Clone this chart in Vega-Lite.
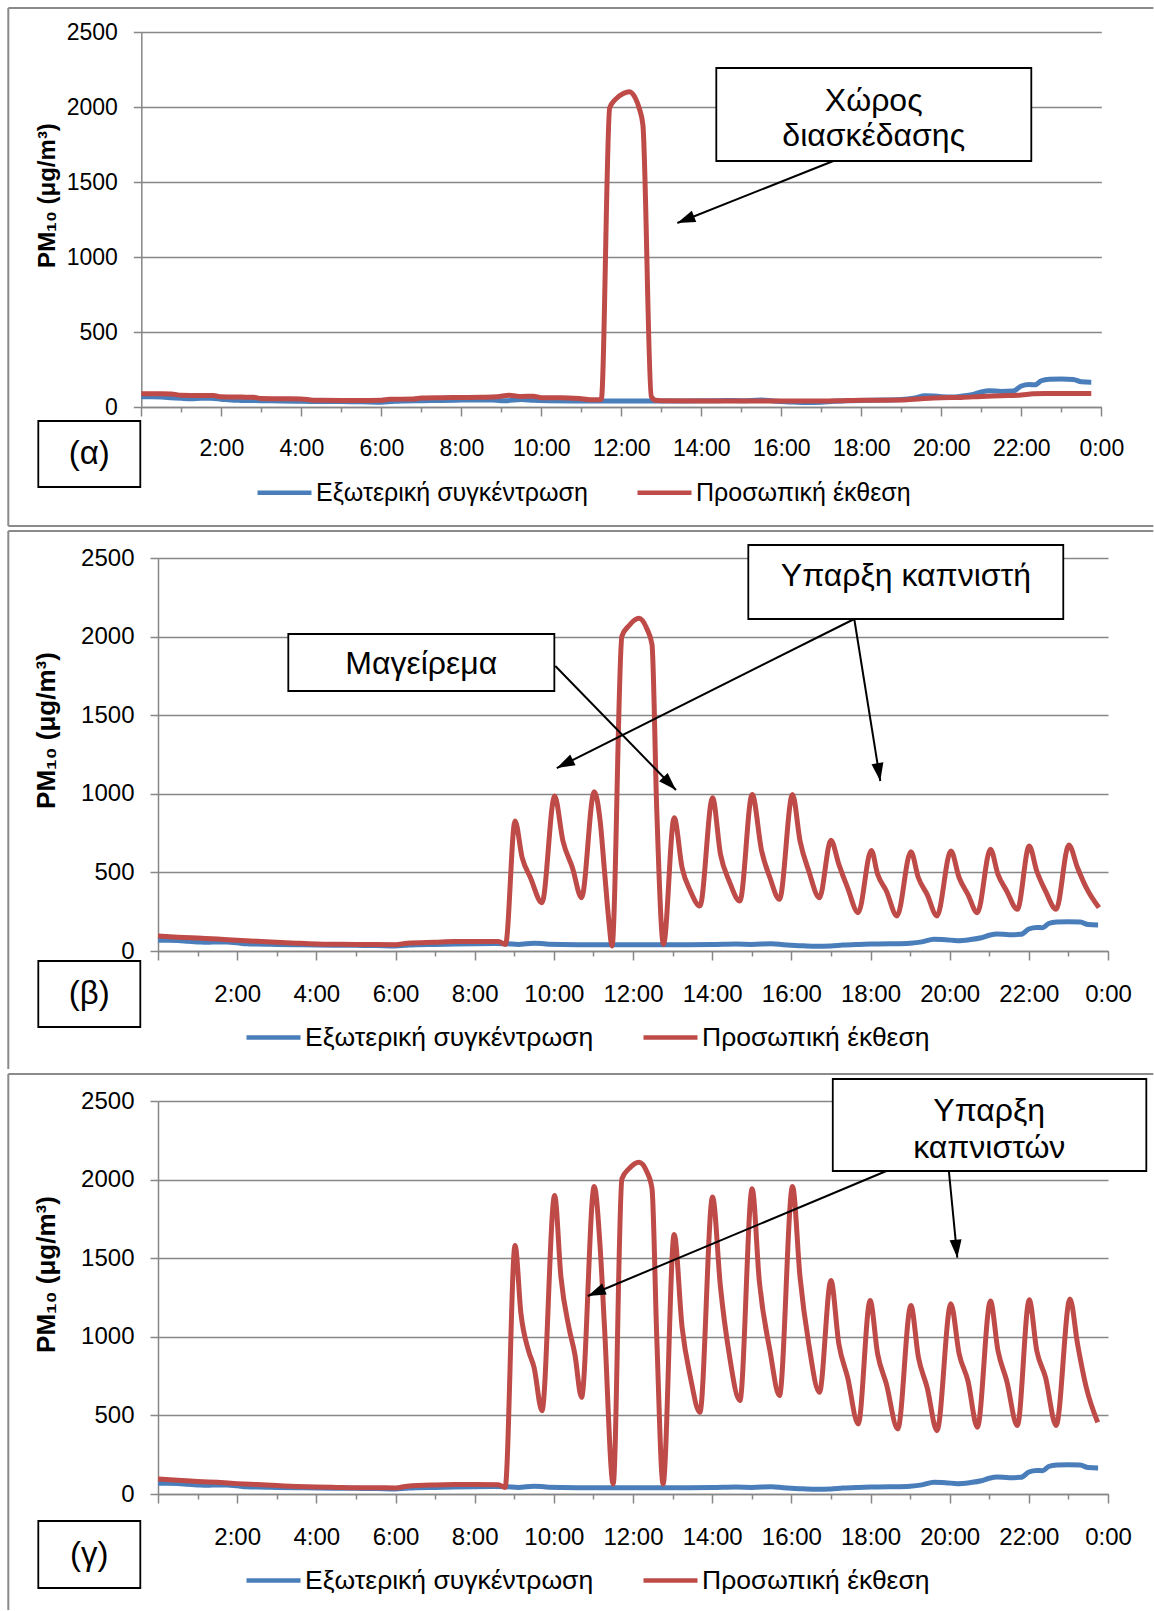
{
 "$schema": "https://vega.github.io/schema/vega-lite/v6.json",
 "padding": {"left": 7, "top": 6, "right": 0, "bottom": 0},
 "background": "white",
 "columns": 1,
 "align": "none",
 "bounds": "full",
 "spacing": 3,
 "resolve": {"scale": {"color": "independent"}, "legend": {"color": "independent"}},
 "config": {
  "font": "Liberation Sans",
  "view": {"stroke": null},
  "axis": {"labelFont": "Liberation Sans", "labelFontSize": 24, "labelColor": "#000000", "titleFont": "Liberation Sans", "titleFontSize": 26, "titleFontWeight": "bold", "titleColor": "#000000", "domainColor": "#878787", "domainWidth": 1.5, "tickColor": "#878787", "tickWidth": 1.5, "gridColor": "#878787", "gridWidth": 1.5, "gridOpacity": 1, "labelFlush": false, "labelOverlap": false, "labelBound": false},
  "legend": {"labelFont": "Liberation Sans", "labelFontSize": 26.5, "labelColor": "#000000", "labelLimit": 500}
 },
 "datasets": {
  "blue": [
   {"h":0,"v":68},{"h":0.25,"v":68},{"h":0.5,"v":66},{"h":0.75,"v":62},{"h":1,"v":58},{"h":1.25,"v":55},{"h":1.5,"v":58},{"h":1.75,"v":58},{"h":2,"v":52},{"h":2.25,"v":46},{"h":2.5,"v":44},{"h":3,"v":42},{"h":3.5,"v":40},{"h":4,"v":38},{"h":4.5,"v":37},{"h":5,"v":36},{"h":5.5,"v":35},{"h":6,"v":32},{"h":6.25,"v":36},{"h":6.5,"v":40},{"h":7,"v":42},{"h":7.5,"v":44},{"h":8,"v":46},{"h":8.5,"v":47},{"h":8.8,"v":46},{"h":9.1,"v":42},{"h":9.5,"v":50},{"h":9.8,"v":45},{"h":10.2,"v":42},{"h":11,"v":40},{"h":12,"v":40},{"h":13,"v":40},{"h":14,"v":41},{"h":14.6,"v":44},{"h":15,"v":42},{"h":15.5,"v":46},{"h":15.8,"v":40},{"h":16.2,"v":34},{"h":16.6,"v":30},{"h":17,"v":32},{"h":17.3,"v":38},{"h":17.7,"v":42},{"h":18,"v":44},{"h":18.5,"v":46},{"h":19,"v":50},{"h":19.3,"v":58},{"h":19.6,"v":75},{"h":19.9,"v":72},{"h":20.2,"v":66},{"h":20.5,"v":72},{"h":20.8,"v":84},{"h":21,"v":100},{"h":21.2,"v":108},{"h":21.5,"v":104},{"h":21.8,"v":106},{"h":22,"v":140},{"h":22.2,"v":150},{"h":22.35,"v":148},{"h":22.5,"v":175},{"h":22.7,"v":185},{"h":23,"v":186},{"h":23.3,"v":184},{"h":23.5,"v":168},{"h":23.75,"v":165}
  ],
  "red_a": [
   {"h":0,"v":88},{"h":0.5,"v":88},{"h":0.75,"v":87},{"h":1,"v":78},{"h":1.5,"v":76},{"h":1.8,"v":76},{"h":2,"v":68},{"h":2.5,"v":66},{"h":2.8,"v":65},{"h":3,"v":56},{"h":3.5,"v":55},{"h":4,"v":54},{"h":4.3,"v":45},{"h":5,"v":44},{"h":5.5,"v":44},{"h":6,"v":45},{"h":6.2,"v":52},{"h":6.8,"v":53},{"h":7,"v":60},{"h":7.5,"v":62},{"h":8,"v":63},{"h":8.5,"v":65},{"h":8.9,"v":68},{"h":9.2,"v":78},{"h":9.5,"v":70},{"h":9.8,"v":72},{"h":10,"v":62},{"h":10.5,"v":62},{"h":11,"v":55},{"h":11.3,"v":48},{"h":11.5,"v":50},{"h":11.71,"v":1995},{"h":11.85,"v":2050},{"h":12.05,"v":2090},{"h":12.2,"v":2102},{"h":12.35,"v":2060},{"h":12.45,"v":1990},{"h":12.54,"v":1880},{"h":12.75,"v":70},{"h":12.85,"v":45},{"h":13,"v":42},{"h":14,"v":40},{"h":15,"v":40},{"h":16,"v":40},{"h":17,"v":40},{"h":17.5,"v":42},{"h":18,"v":45},{"h":19,"v":46},{"h":19.5,"v":55},{"h":20,"v":62},{"h":20.5,"v":64},{"h":21,"v":70},{"h":21.5,"v":75},{"h":22,"v":80},{"h":22.3,"v":88},{"h":22.6,"v":90},{"h":23,"v":90},{"h":23.75,"v":90}
  ],
  "red_b": [
   {"h":0,"v":95},{"h":0.5,"v":88},{"h":1,"v":82},{"h":1.5,"v":76},{"h":2,"v":68},{"h":2.5,"v":62},{"h":3,"v":56},{"h":3.5,"v":50},{"h":4,"v":45},{"h":4.5,"v":43},{"h":5,"v":42},{"h":5.5,"v":41},{"h":6,"v":40},{"h":6.3,"v":50},{"h":7,"v":56},{"h":7.5,"v":60},{"h":8,"v":60},{"h":8.6,"v":60},{"h":8.78,"v":42},{"h":9.02,"v":827},{"h":9.2,"v":594},{"h":9.41,"v":466},{"h":9.7,"v":307},{"h":10.02,"v":986},{"h":10.23,"v":700},{"h":10.47,"v":530},{"h":10.7,"v":339},{"h":11.02,"v":1013},{"h":11.17,"v":827},{"h":11.28,"v":509},{"h":11.39,"v":191},{"h":11.47,"v":32},{"h":11.72,"v":2003},{"h":11.9,"v":2070},{"h":12.15,"v":2116},{"h":12.35,"v":2050},{"h":12.48,"v":1950},{"h":12.6,"v":900},{"h":12.77,"v":42},{"h":13.04,"v":848},{"h":13.24,"v":530},{"h":13.45,"v":382},{"h":13.69,"v":286},{"h":14.01,"v":975},{"h":14.21,"v":615},{"h":14.43,"v":445},{"h":14.7,"v":318},{"h":15.01,"v":996},{"h":15.25,"v":636},{"h":15.46,"v":466},{"h":15.7,"v":329},{"h":16.03,"v":996},{"h":16.22,"v":700},{"h":16.44,"v":509},{"h":16.71,"v":339},{"h":17.0,"v":704},{"h":17.2,"v":551},{"h":17.42,"v":403},{"h":17.69,"v":244},{"h":18.02,"v":640},{"h":18.18,"v":488},{"h":18.4,"v":382},{"h":18.67,"v":223},{"h":19.02,"v":632},{"h":19.21,"v":466},{"h":19.43,"v":360},{"h":19.68,"v":223},{"h":20.03,"v":636},{"h":20.24,"v":466},{"h":20.46,"v":360},{"h":20.7,"v":244},{"h":21.03,"v":647},{"h":21.22,"v":488},{"h":21.44,"v":382},{"h":21.71,"v":265},{"h":22.01,"v":668},{"h":22.2,"v":509},{"h":22.42,"v":382},{"h":22.69,"v":265},{"h":23.01,"v":674},{"h":23.23,"v":530},{"h":23.45,"v":403},{"h":23.77,"v":276}
  ],
  "red_g": [
   {"h":0,"v":95},{"h":0.5,"v":88},{"h":1,"v":80},{"h":1.5,"v":74},{"h":2,"v":66},{"h":2.5,"v":60},{"h":3,"v":54},{"h":3.5,"v":48},{"h":4,"v":44},{"h":4.5,"v":42},{"h":5,"v":40},{"h":5.5,"v":40},{"h":6,"v":38},{"h":6.3,"v":50},{"h":7,"v":58},{"h":7.5,"v":60},{"h":8,"v":60},{"h":8.6,"v":59},{"h":8.77,"v":42},{"h":9.02,"v":1581},{"h":9.17,"v":1146},{"h":9.36,"v":912},{"h":9.5,"v":806},{"h":9.7,"v":530},{"h":10.02,"v":1899},{"h":10.18,"v":1379},{"h":10.38,"v":1061},{"h":10.53,"v":891},{"h":10.7,"v":615},{"h":11.02,"v":1956},{"h":11.17,"v":1570},{"h":11.28,"v":1061},{"h":11.5,"v":64},{"h":11.72,"v":2005},{"h":11.9,"v":2070},{"h":12.15,"v":2111},{"h":12.35,"v":2050},{"h":12.48,"v":1942},{"h":12.6,"v":1000},{"h":12.76,"v":64},{"h":13.04,"v":1651},{"h":13.24,"v":1061},{"h":13.45,"v":743},{"h":13.69,"v":520},{"h":14.01,"v":1889},{"h":14.21,"v":1316},{"h":14.43,"v":891},{"h":14.7,"v":594},{"h":15.01,"v":1942},{"h":15.19,"v":1358},{"h":15.46,"v":912},{"h":15.7,"v":626},{"h":16.03,"v":1956},{"h":16.22,"v":1379},{"h":16.44,"v":955},{"h":16.71,"v":647},{"h":17.0,"v":1358},{"h":17.2,"v":955},{"h":17.42,"v":743},{"h":17.69,"v":446},{"h":17.99,"v":1231},{"h":18.18,"v":891},{"h":18.4,"v":700},{"h":18.69,"v":414},{"h":19.02,"v":1199},{"h":19.21,"v":870},{"h":19.43,"v":679},{"h":19.68,"v":403},{"h":20.03,"v":1210},{"h":20.24,"v":891},{"h":20.46,"v":721},{"h":20.7,"v":424},{"h":21.03,"v":1227},{"h":21.22,"v":912},{"h":21.44,"v":721},{"h":21.71,"v":435},{"h":22.01,"v":1235},{"h":22.2,"v":912},{"h":22.42,"v":743},{"h":22.69,"v":435},{"h":23.04,"v":1241},{"h":23.23,"v":955},{"h":23.45,"v":679},{"h":23.74,"v":456}
  ],
  "ann_a": [
   {"kind":"box","h":14.375,"h2":22.25,"v":2260,"v2":1640},
   {"kind":"box","h":-2.575,"h2":-0.025,"v":-93.3,"v2":-533.3},
   {"kind":"note","h":18.31,"v":2040,"t":"Χώρος\nδιασκέδασης"},
   {"kind":"tag","h":-1.3,"v":-313,"t":"(α)"},
   {"kind":"arrow","id":"a1","h":17.3,"v":1640,"h2":13.4,"v2":1226.7},
   {"kind":"frame","h":-3.325,"h2":25.3,"v":2660,"v2":2660},
   {"kind":"frame","h":-3.325,"h2":-3.325,"v":2660,"v2":-793.3},
   {"kind":"frame","h":-3.325,"h2":25.3,"v":-793.3,"v2":-793.3}
  ],
  "ann_b": [
   {"kind":"box","h":3.292,"h2":10.013,"v":2016.5,"v2":1654},
   {"kind":"box","h":14.913,"h2":22.87,"v":2582.7,"v2":2112},
   {"kind":"box","h":-3.024,"h2":-0.447,"v":-63.6,"v2":-483.5},
   {"kind":"note","h":6.65,"v":1826,"t":"Μαγείρεμα"},
   {"kind":"note","h":18.894,"v":2385,"t":"Υπαρξη καπνιστή"},
   {"kind":"tag","h":-1.735,"v":-273.5,"t":"(β)"},
   {"kind":"arrow","id":"b1","h":10.037,"v":1813,"h2":13.085,"v2":1024.2},
   {"kind":"arrow","id":"b2","h":17.59,"v":2112,"h2":10.075,"v2":1164},
   {"kind":"arrow","id":"b3","h":17.59,"v":2112,"h2":18.247,"v2":1081.4},
   {"kind":"frame","h":-3.782,"h2":25.145,"v":2671.7,"v2":2671.7},
   {"kind":"frame","h":-3.782,"h2":-3.782,"v":2671.7,"v2":-750.6}
  ],
  "ann_g": [
   {"kind":"box","h":17.047,"h2":24.968,"v":2640,"v2":2054.7},
   {"kind":"box","h":-3.024,"h2":-0.447,"v":-171.8,"v2":-598},
   {"kind":"note","h":21.0,"v":2436,"t":"Υπαρξη\nκαπνιστών"},
   {"kind":"tag","h":-1.735,"v":-385,"t":"(γ)"},
   {"kind":"arrow","id":"g1","h":18.4,"v":2054.7,"h2":10.858,"v2":1259.5},
   {"kind":"arrow","id":"g2","h":19.98,"v":2054.7,"h2":20.193,"v2":1503.2},
   {"kind":"frame","h":-3.782,"h2":25.145,"v":2671.7,"v2":2671.7},
   {"kind":"frame","h":-3.782,"h2":-3.782,"v":2671.7,"v2":-737.9}
  ]
 },
 "concat": [
  {
   "width": 943.3, "height": 375,
   "resolve": {"axis": {"x": "independent"}},
   "layer": [
    {"data": {"name": "blue"}, "mark": {"type": "line", "strokeWidth": 5, "interpolate": "monotone"},
     "encoding": {
      "x": {"field": "h", "type": "quantitative", "scale": {"domain": [0, 24], "range": [-16.7, 943.3], "nice": false, "zero": false},
            "axis": {"orient": "bottom", "values": [0,2,4,6,8,10,12,14,16,18,20,22,24], "labelExpr": "datum.value == 0 ? '' : (datum.value % 24) + ':00'", "labelFontSize": 23, "tickSize": 9, "labelPadding": 21, "grid": false, "title": null}},
      "y": {"field": "v", "type": "quantitative", "scale": {"domain": [0, 2500], "nice": false},
            "axis": {"values": [0,500,1000,1500,2000,2500], "format": "d", "offset": 16.7, "labelFontSize": 23, "tickSize": 8, "labelPadding": 16, "grid": true, "title": "PM₁₀ (μg/m³)", "titleFontSize": 24, "titleX": -94, "titleY": 163, "titleAngle": -90, "titleAlign": "center", "titleBaseline": "middle"}},
      "color": {"datum": "Εξωτερική συγκέντρωση", "type": "nominal",
                "scale": {"domain": ["Εξωτερική συγκέντρωση", "Προσωπική έκθεση"], "range": ["#4A7EBB", "#BE4B48"]},
                "legend": {"orient": "none", "legendX": 97, "legendY": 431, "direction": "horizontal", "title": null, "symbolType": "stroke", "symbolSize": 2916, "symbolStrokeWidth": 4.5, "columnPadding": 40, "labelOffset": 2, "padding": 0, "labelFontSize": 25}}
     }},
    {"data": {"name": "red_a"}, "mark": {"type": "line", "strokeWidth": 5, "interpolate": "monotone"},
     "encoding": {
      "x": {"field": "h", "type": "quantitative", "axis": {"orient": "bottom", "values": [1,3,5,7,9,11,13,15,17,19,21,23], "tickSize": 5, "labels": false, "domain": false, "grid": false, "title": null}},
      "y": {"field": "v", "type": "quantitative"},
      "color": {"datum": "Προσωπική έκθεση", "type": "nominal"}
     }},
    {"data": {"name": "ann_a"}, "transform": [{"filter": "datum.kind == 'box'"}],
     "mark": {"type": "rect", "fill": "white", "stroke": "black", "strokeWidth": 1.8},
     "encoding": {"x": {"field": "h", "type": "quantitative", "axis": null}, "x2": {"field": "h2"}, "y": {"field": "v", "type": "quantitative"}, "y2": {"field": "v2"}}},
    {"data": {"name": "ann_a"}, "transform": [{"filter": "datum.kind == 'note'"}],
     "mark": {"type": "text", "fontSize": 32, "font": "Liberation Sans", "color": "black", "align": "center", "baseline": "middle", "lineBreak": "\n", "lineHeight": 35},
     "encoding": {"x": {"field": "h", "type": "quantitative", "axis": null}, "y": {"field": "v", "type": "quantitative"}, "text": {"field": "t"}}},
    {"data": {"name": "ann_a"}, "transform": [{"filter": "datum.kind == 'tag'"}],
     "mark": {"type": "text", "fontSize": 33, "font": "Liberation Sans", "color": "black", "align": "center", "baseline": "middle"},
     "encoding": {"x": {"field": "h", "type": "quantitative", "axis": null}, "y": {"field": "v", "type": "quantitative"}, "text": {"field": "t"}}},
    {"data": {"name": "ann_a"}, "transform": [{"filter": "datum.kind == 'arrow'"}],
     "mark": {"type": "rule", "color": "black", "strokeWidth": 2},
     "encoding": {"x": {"field": "h", "type": "quantitative", "axis": null}, "x2": {"field": "h2"}, "y": {"field": "v", "type": "quantitative"}, "y2": {"field": "v2"}}},
    {"data": {"name": "ann_a"}, "transform": [{"filter": "datum.id == 'a1'"}],
     "mark": {"type": "point", "shape": "M0,0L-0.6,1.8L0.6,1.8Z", "size": 400, "filled": true, "color": "black", "opacity": 1, "strokeWidth": 0, "angle": 248.3},
     "encoding": {"x": {"field": "h2", "type": "quantitative", "axis": null}, "y": {"field": "v2", "type": "quantitative"}}},
    {"data": {"name": "ann_a"}, "transform": [{"filter": "datum.kind == 'frame'"}],
     "mark": {"type": "rule", "color": "#8a8a8a", "strokeWidth": 2},
     "encoding": {"x": {"field": "h", "type": "quantitative", "axis": null}, "x2": {"field": "h2"}, "y": {"field": "v", "type": "quantitative"}, "y2": {"field": "v2"}}}
   ]
  },
  {
   "width": 950, "height": 393,
   "resolve": {"axis": {"x": "independent"}},
   "layer": [
    {"data": {"name": "blue"}, "mark": {"type": "line", "strokeWidth": 5, "interpolate": "monotone"},
     "encoding": {
      "x": {"field": "h", "type": "quantitative", "scale": {"domain": [0, 24], "nice": false, "zero": false},
            "axis": {"orient": "bottom", "values": [0,2,4,6,8,10,12,14,16,18,20,22,24], "labelExpr": "datum.value == 0 ? '' : (datum.value % 24) + ':00'", "tickSize": 9, "labelPadding": 22, "grid": false, "title": null}},
      "y": {"field": "v", "type": "quantitative", "scale": {"domain": [0, 2500], "nice": false},
            "axis": {"values": [0,500,1000,1500,2000,2500], "format": "d", "tickSize": 8, "labelPadding": 16, "grid": true, "title": "PM₁₀ (μg/m³)", "titleX": -112, "titleY": 172, "titleAngle": -90, "titleAlign": "center", "titleBaseline": "middle"}},
      "color": {"datum": "Εξωτερική συγκέντρωση", "type": "nominal",
                "scale": {"domain": ["Εξωτερική συγκέντρωση", "Προσωπική έκθεση"], "range": ["#4A7EBB", "#BE4B48"]},
                "legend": {"orient": "none", "legendX": 86, "legendY": 450, "direction": "horizontal", "title": null, "symbolType": "stroke", "symbolSize": 2916, "symbolStrokeWidth": 4.5, "columnPadding": 40, "labelOffset": 2, "padding": 0}}
     }},
    {"data": {"name": "red_b"}, "mark": {"type": "line", "strokeWidth": 5, "interpolate": "monotone"},
     "encoding": {
      "x": {"field": "h", "type": "quantitative", "axis": {"orient": "bottom", "values": [1,3,5,7,9,11,13,15,17,19,21,23], "tickSize": 5, "labels": false, "domain": false, "grid": false, "title": null}},
      "y": {"field": "v", "type": "quantitative"},
      "color": {"datum": "Προσωπική έκθεση", "type": "nominal"}
     }},
    {"data": {"name": "ann_b"}, "transform": [{"filter": "datum.kind == 'box'"}],
     "mark": {"type": "rect", "fill": "white", "stroke": "black", "strokeWidth": 1.8},
     "encoding": {"x": {"field": "h", "type": "quantitative", "axis": null}, "x2": {"field": "h2"}, "y": {"field": "v", "type": "quantitative"}, "y2": {"field": "v2"}}},
    {"data": {"name": "ann_b"}, "transform": [{"filter": "datum.kind == 'note'"}],
     "mark": {"type": "text", "fontSize": 32, "font": "Liberation Sans", "color": "black", "align": "center", "baseline": "middle", "lineBreak": "\n", "lineHeight": 35},
     "encoding": {"x": {"field": "h", "type": "quantitative", "axis": null}, "y": {"field": "v", "type": "quantitative"}, "text": {"field": "t"}}},
    {"data": {"name": "ann_b"}, "transform": [{"filter": "datum.kind == 'tag'"}],
     "mark": {"type": "text", "fontSize": 33, "font": "Liberation Sans", "color": "black", "align": "center", "baseline": "middle"},
     "encoding": {"x": {"field": "h", "type": "quantitative", "axis": null}, "y": {"field": "v", "type": "quantitative"}, "text": {"field": "t"}}},
    {"data": {"name": "ann_b"}, "transform": [{"filter": "datum.kind == 'arrow'"}],
     "mark": {"type": "rule", "color": "black", "strokeWidth": 2},
     "encoding": {"x": {"field": "h", "type": "quantitative", "axis": null}, "x2": {"field": "h2"}, "y": {"field": "v", "type": "quantitative"}, "y2": {"field": "v2"}}},
    {"data": {"name": "ann_b"}, "transform": [{"filter": "datum.id == 'b1'"}],
     "mark": {"type": "point", "shape": "M0,0L-0.6,1.8L0.6,1.8Z", "size": 400, "filled": true, "color": "black", "opacity": 1, "strokeWidth": 0, "angle": 135.8},
     "encoding": {"x": {"field": "h2", "type": "quantitative", "axis": null}, "y": {"field": "v2", "type": "quantitative"}}},
    {"data": {"name": "ann_b"}, "transform": [{"filter": "datum.id == 'b2'"}],
     "mark": {"type": "point", "shape": "M0,0L-0.6,1.8L0.6,1.8Z", "size": 400, "filled": true, "color": "black", "opacity": 1, "strokeWidth": 0, "angle": 243.4},
     "encoding": {"x": {"field": "h2", "type": "quantitative", "axis": null}, "y": {"field": "v2", "type": "quantitative"}}},
    {"data": {"name": "ann_b"}, "transform": [{"filter": "datum.id == 'b3'"}],
     "mark": {"type": "point", "shape": "M0,0L-0.6,1.8L0.6,1.8Z", "size": 400, "filled": true, "color": "black", "opacity": 1, "strokeWidth": 0, "angle": 170.9},
     "encoding": {"x": {"field": "h2", "type": "quantitative", "axis": null}, "y": {"field": "v2", "type": "quantitative"}}},
    {"data": {"name": "ann_b"}, "transform": [{"filter": "datum.kind == 'frame'"}],
     "mark": {"type": "rule", "color": "#8a8a8a", "strokeWidth": 2},
     "encoding": {"x": {"field": "h", "type": "quantitative", "axis": null}, "x2": {"field": "h2"}, "y": {"field": "v", "type": "quantitative"}, "y2": {"field": "v2"}}}
   ]
  },
  {
   "width": 950, "height": 393,
   "resolve": {"axis": {"x": "independent"}},
   "layer": [
    {"data": {"name": "blue"}, "mark": {"type": "line", "strokeWidth": 5, "interpolate": "monotone"},
     "encoding": {
      "x": {"field": "h", "type": "quantitative", "scale": {"domain": [0, 24], "nice": false, "zero": false},
            "axis": {"orient": "bottom", "values": [0,2,4,6,8,10,12,14,16,18,20,22,24], "labelExpr": "datum.value == 0 ? '' : (datum.value % 24) + ':00'", "tickSize": 9, "labelPadding": 22, "grid": false, "title": null}},
      "y": {"field": "v", "type": "quantitative", "scale": {"domain": [0, 2500], "nice": false},
            "axis": {"values": [0,500,1000,1500,2000,2500], "format": "d", "tickSize": 8, "labelPadding": 16, "grid": true, "title": "PM₁₀ (μg/m³)", "titleX": -112, "titleY": 173, "titleAngle": -90, "titleAlign": "center", "titleBaseline": "middle"}},
      "color": {"datum": "Εξωτερική συγκέντρωση", "type": "nominal",
                "scale": {"domain": ["Εξωτερική συγκέντρωση", "Προσωπική έκθεση"], "range": ["#4A7EBB", "#BE4B48"]},
                "legend": {"orient": "none", "legendX": 86, "legendY": 450, "direction": "horizontal", "title": null, "symbolType": "stroke", "symbolSize": 2916, "symbolStrokeWidth": 4.5, "columnPadding": 40, "labelOffset": 2, "padding": 0}}
     }},
    {"data": {"name": "red_g"}, "mark": {"type": "line", "strokeWidth": 5, "interpolate": "monotone"},
     "encoding": {
      "x": {"field": "h", "type": "quantitative", "axis": {"orient": "bottom", "values": [1,3,5,7,9,11,13,15,17,19,21,23], "tickSize": 5, "labels": false, "domain": false, "grid": false, "title": null}},
      "y": {"field": "v", "type": "quantitative"},
      "color": {"datum": "Προσωπική έκθεση", "type": "nominal"}
     }},
    {"data": {"name": "ann_g"}, "transform": [{"filter": "datum.kind == 'box'"}],
     "mark": {"type": "rect", "fill": "white", "stroke": "black", "strokeWidth": 1.8},
     "encoding": {"x": {"field": "h", "type": "quantitative", "axis": null}, "x2": {"field": "h2"}, "y": {"field": "v", "type": "quantitative"}, "y2": {"field": "v2"}}},
    {"data": {"name": "ann_g"}, "transform": [{"filter": "datum.kind == 'note'"}],
     "mark": {"type": "text", "fontSize": 32, "font": "Liberation Sans", "color": "black", "align": "center", "baseline": "middle", "lineBreak": "\n", "lineHeight": 37},
     "encoding": {"x": {"field": "h", "type": "quantitative", "axis": null}, "y": {"field": "v", "type": "quantitative"}, "text": {"field": "t"}}},
    {"data": {"name": "ann_g"}, "transform": [{"filter": "datum.kind == 'tag'"}],
     "mark": {"type": "text", "fontSize": 33, "font": "Liberation Sans", "color": "black", "align": "center", "baseline": "middle"},
     "encoding": {"x": {"field": "h", "type": "quantitative", "axis": null}, "y": {"field": "v", "type": "quantitative"}, "text": {"field": "t"}}},
    {"data": {"name": "ann_g"}, "transform": [{"filter": "datum.kind == 'arrow'"}],
     "mark": {"type": "rule", "color": "black", "strokeWidth": 2},
     "encoding": {"x": {"field": "h", "type": "quantitative", "axis": null}, "x2": {"field": "h2"}, "y": {"field": "v", "type": "quantitative"}, "y2": {"field": "v2"}}},
    {"data": {"name": "ann_g"}, "transform": [{"filter": "datum.id == 'g1'"}],
     "mark": {"type": "point", "shape": "M0,0L-0.6,1.8L0.6,1.8Z", "size": 400, "filled": true, "color": "black", "opacity": 1, "strokeWidth": 0, "angle": 247.3},
     "encoding": {"x": {"field": "h2", "type": "quantitative", "axis": null}, "y": {"field": "v2", "type": "quantitative"}}},
    {"data": {"name": "ann_g"}, "transform": [{"filter": "datum.id == 'g2'"}],
     "mark": {"type": "point", "shape": "M0,0L-0.6,1.8L0.6,1.8Z", "size": 400, "filled": true, "color": "black", "opacity": 1, "strokeWidth": 0, "angle": 174.5},
     "encoding": {"x": {"field": "h2", "type": "quantitative", "axis": null}, "y": {"field": "v2", "type": "quantitative"}}},
    {"data": {"name": "ann_g"}, "transform": [{"filter": "datum.kind == 'frame'"}],
     "mark": {"type": "rule", "color": "#8a8a8a", "strokeWidth": 2},
     "encoding": {"x": {"field": "h", "type": "quantitative", "axis": null}, "x2": {"field": "h2"}, "y": {"field": "v", "type": "quantitative"}, "y2": {"field": "v2"}}}
   ]
  }
 ]
}
